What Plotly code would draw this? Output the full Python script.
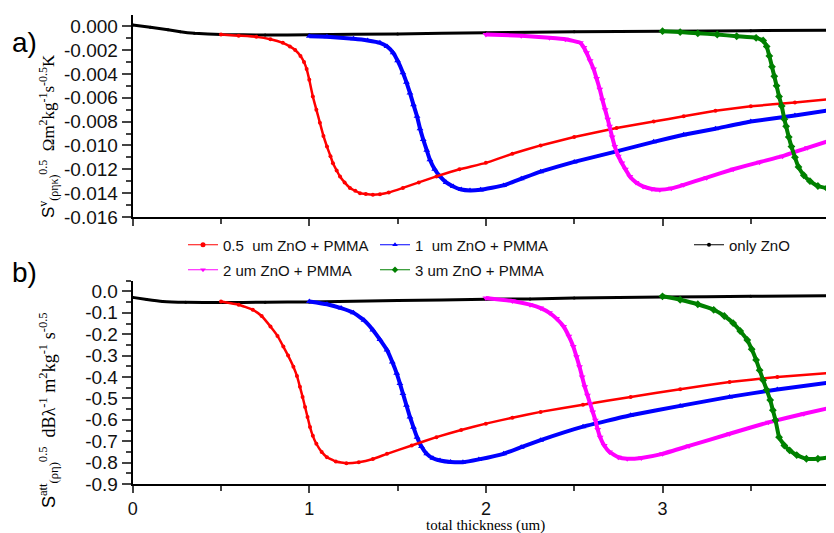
import plotly.graph_objects as go

# ---------------- data ----------------
# Panel a) : S^v
black_top_x = [0, 0.1, 0.2, 0.27, 0.35, 0.5, 0.75, 1.0, 1.5, 2.0, 2.5, 3.0, 3.5, 3.97]
black_top_y = [0.0001, -0.0001, -0.0003, -0.00047, -0.0006, -0.0007, -0.00075, -0.00072,
               -0.00065, -0.00056, -0.00048, -0.00042, -0.00038, -0.00034]

red_top_x = [0.5, 0.6, 0.7, 0.78, 0.85, 0.89, 0.92, 0.95, 0.97, 0.985, 1.0, 1.02, 1.04, 1.06,
             1.08, 1.10, 1.12, 1.134, 1.155, 1.174, 1.2, 1.23, 1.26, 1.287, 1.32, 1.36, 1.4,
             1.45, 1.53, 1.62, 1.72, 1.85, 2.0, 2.15, 2.31, 2.5, 2.74, 2.95, 3.12, 3.3, 3.5,
             3.75, 3.97]
red_top_y = [-0.0007, -0.0008, -0.0009, -0.0011, -0.0014, -0.0017, -0.0020, -0.0025, -0.0030,
             -0.0036, -0.0045, -0.0059, -0.0070, -0.0081, -0.0092, -0.0101, -0.0109, -0.0115,
             -0.0121, -0.0126, -0.0131, -0.01356, -0.0138, -0.0140, -0.01408, -0.01414,
             -0.0141, -0.01395, -0.01356, -0.0131, -0.0126, -0.0120, -0.01146, -0.0107,
             -0.0100, -0.0093, -0.00854, -0.0080, -0.00756, -0.0071, -0.00672, -0.0064, -0.0061]

blue_top_x = [1.0, 1.1, 1.25, 1.33, 1.40, 1.44, 1.475, 1.50, 1.53, 1.55, 1.57, 1.59, 1.61,
              1.627, 1.645, 1.665, 1.683, 1.71, 1.74, 1.775, 1.815, 1.86, 1.91, 1.97, 2.1,
              2.2, 2.31, 2.5, 2.74, 2.95, 3.12, 3.3, 3.5, 3.75, 3.97]
blue_top_y = [-0.00084, -0.0009, -0.00106, -0.0012, -0.0014, -0.0017, -0.00224, -0.0029,
              -0.0039, -0.0047, -0.0056, -0.0066, -0.00756, -0.0086, -0.0095, -0.0104,
              -0.0112, -0.0120, -0.0126, -0.0131, -0.01344, -0.0137, -0.01378, -0.01372,
              -0.01335, -0.0128, -0.0122, -0.01138, -0.0105, -0.0097, -0.0091, -0.0086,
              -0.0080, -0.0075, -0.0070]

magenta_top_x = [2.0, 2.2, 2.36, 2.45, 2.535, 2.555, 2.57, 2.59, 2.61, 2.627, 2.645, 2.66,
                 2.675, 2.69, 2.70, 2.715, 2.73, 2.75, 2.77, 2.79, 2.815, 2.85, 2.89, 2.94,
                 2.985, 3.05, 3.12, 3.25, 3.4, 3.55, 3.68, 3.82, 3.97]
magenta_top_y = [-0.0007, -0.0008, -0.00098, -0.0011, -0.0014, -0.0018, -0.00224, -0.0029,
                 -0.0036, -0.0044, -0.0053, -0.0062, -0.0070, -0.0078, -0.0084, -0.0093,
                 -0.0101, -0.0109, -0.01148, -0.0120, -0.0126, -0.0131, -0.01344, -0.01365,
                 -0.01372, -0.0136, -0.0133, -0.0127, -0.0120, -0.0114, -0.0109, -0.0102,
                 -0.0095]

green_top_x = [3.0, 3.1, 3.2, 3.31, 3.42, 3.53, 3.57, 3.59, 3.605, 3.62, 3.633, 3.646, 3.66,
               3.675, 3.69, 3.70, 3.715, 3.73, 3.75, 3.77, 3.80, 3.835, 3.88, 3.93, 3.97]
green_top_y = [-0.00042, -0.0005, -0.0006, -0.0007, -0.00085, -0.00098, -0.0012, -0.0017,
               -0.0025, -0.0034, -0.0042, -0.0050, -0.0059, -0.0067, -0.0078, -0.0084,
               -0.0093, -0.0101, -0.0110, -0.0118, -0.0125, -0.0130, -0.0134, -0.01358,
               -0.01366]

# Panel b) : S^att
black_bot_x = [0, 0.08, 0.17, 0.3, 0.5, 0.75, 1.0, 1.5, 2.0, 2.25, 2.5, 3.0, 3.5, 3.97]
black_bot_y = [-0.028, -0.038, -0.047, -0.051, -0.052, -0.051, -0.049, -0.043, -0.037,
               -0.035, -0.031, -0.026, -0.023, -0.020]

red_bot_x = [0.5, 0.6, 0.68, 0.73, 0.78, 0.82, 0.853, 0.88, 0.91, 0.93, 0.947, 0.962, 0.976,
             0.99, 1.004, 1.02, 1.04, 1.07, 1.10, 1.15, 1.21, 1.28, 1.36, 1.44, 1.58, 1.72,
             1.86, 2.0, 2.15, 2.31, 2.55, 2.82, 3.1, 3.38, 3.65, 3.97]
red_bot_y = [-0.047, -0.062, -0.086, -0.115, -0.164, -0.208, -0.258, -0.30, -0.352, -0.395,
             -0.446, -0.493, -0.54, -0.587, -0.634, -0.675, -0.712, -0.75, -0.775, -0.795,
             -0.803, -0.798, -0.783, -0.759, -0.72, -0.681, -0.648, -0.618, -0.59, -0.563,
             -0.53, -0.493, -0.457, -0.423, -0.40, -0.38]

blue_bot_x = [1.0, 1.1, 1.18, 1.25, 1.31, 1.36, 1.40, 1.44, 1.47, 1.495, 1.513, 1.53, 1.55,
              1.57, 1.59, 1.61, 1.635, 1.665, 1.70, 1.74, 1.80, 1.87, 1.96, 2.1, 2.2, 2.31,
              2.55, 2.82, 3.1, 3.38, 3.65, 3.97]
blue_bot_y = [-0.047, -0.060, -0.078, -0.10, -0.135, -0.18, -0.225, -0.274, -0.33, -0.383,
              -0.43, -0.477, -0.532, -0.587, -0.635, -0.681, -0.725, -0.759, -0.78, -0.79,
              -0.797, -0.798, -0.785, -0.759, -0.728, -0.695, -0.632, -0.579, -0.535, -0.493,
              -0.458, -0.423]

magenta_bot_x = [2.0, 2.15, 2.25, 2.31, 2.36, 2.40, 2.44, 2.47, 2.495, 2.513, 2.53, 2.545,
                 2.56, 2.575, 2.59, 2.605, 2.62, 2.633, 2.647, 2.67, 2.70, 2.75, 2.80, 2.88,
                 3.0, 3.15, 3.38, 3.6, 3.8, 3.97]
magenta_bot_y = [-0.031, -0.045, -0.062, -0.078, -0.10, -0.127, -0.164, -0.21, -0.258,
                 -0.305, -0.352, -0.40, -0.446, -0.485, -0.524, -0.563, -0.602, -0.645,
                 -0.681, -0.72, -0.751, -0.775, -0.782, -0.778, -0.759, -0.722, -0.665,
                 -0.612, -0.572, -0.54]

green_bot_x = [3.0, 3.1, 3.2, 3.29, 3.35, 3.40, 3.44, 3.48, 3.505, 3.53, 3.55, 3.57, 3.59,
               3.61, 3.625, 3.64, 3.66, 3.69, 3.72, 3.76, 3.815, 3.88, 3.95, 3.97]
green_bot_y = [-0.023, -0.039, -0.06, -0.086, -0.115, -0.148, -0.185, -0.227, -0.27, -0.32,
               -0.368, -0.415, -0.46, -0.508, -0.555, -0.602, -0.681, -0.72, -0.743, -0.765,
               -0.782, -0.782, -0.775, -0.773]

series_names = ["0.5  um ZnO + PMMA", "1  um ZnO + PMMA", "only ZnO",
                "2 um ZnO + PMMA", "3 um ZnO + PMMA"]

top_tickvals = [0.0, -0.002, -0.004, -0.006, -0.008, -0.010, -0.012, -0.014, -0.016]
top_ticktext = ["0.000", "-0.002", "-0.004", "-0.006", "-0.008", "-0.010", "-0.012",
                "-0.014", "-0.016"]
bot_tickvals = [0.0, -0.1, -0.2, -0.3, -0.4, -0.5, -0.6, -0.7, -0.8, -0.9]
bot_ticktext = ["0.0", "-0.1", "-0.2", "-0.3", "-0.4", "-0.5", "-0.6", "-0.7", "-0.8", "-0.9"]
x_tickvals = [0, 1, 2, 3, 4]
x_ticktext = ["0", "1", "2", "3", "4"]

# ---------------- figure ----------------
OFF = 8                       # page body margin
W, H = 834 - OFF, 533 - OFF   # figure size so it fills the window


def fx(px):
    return (px - OFF) / W


def fy(py):
    return 1 - (py - OFF) / H


X_MAX = (834 - 132.7) / 176.6

fig = go.Figure()

styles = {
    "red": dict(color="#FF0000", symbol="circle", size=4, lw=2.5),
    "blue": dict(color="#0000FF", symbol="triangle-up", size=6, lw=4),
    "black": dict(color="#000000", symbol="circle", size=3, lw=3),
    "magenta": dict(color="#FF00FF", symbol="triangle-down", size=6, lw=4),
    "green": dict(color="#008000", symbol="diamond", size=6, lw=4),
}

panels = [
    ("x", "y", {"black": (black_top_x, black_top_y), "blue": (blue_top_x, blue_top_y),
                "red": (red_top_x, red_top_y), "magenta": (magenta_top_x, magenta_top_y),
                "green": (green_top_x, green_top_y)}),
    ("x2", "y2", {"black": (black_bot_x, black_bot_y), "blue": (blue_bot_x, blue_bot_y),
                  "red": (red_bot_x, red_bot_y), "magenta": (magenta_bot_x, magenta_bot_y),
                  "green": (green_bot_x, green_bot_y)}),
]
for xa, ya, data in panels:
    for key in ["black", "blue", "red", "magenta", "green"]:
        s = styles[key]
        xs, ys = data[key]
        fig.add_trace(go.Scatter(
            x=xs, y=ys, xaxis=xa, yaxis=ya, mode="lines+markers",
            line=dict(color=s["color"], width=s["lw"], shape="spline", smoothing=0.3),
            marker=dict(color=s["color"], symbol=s["symbol"], size=s["size"]),
            showlegend=False, hoverinfo="skip"))

# legend entries (thin lines), each in its own legend box; (text start x, row y) in page px
legend_items = [("red", series_names[0], 222, 245), ("blue", series_names[1], 414, 245),
                ("black", series_names[2], 728, 245), ("magenta", series_names[3], 222, 270),
                ("green", series_names[4], 414, 270)]
legend_ids = ["legend", "legend2", "legend3", "legend4", "legend5"]
for (key, name, px, py), lid in zip(legend_items, legend_ids):
    s = styles[key]
    fig.add_trace(go.Scatter(
        x=[None], y=[None], mode="lines+markers", name=name, legend=lid,
        line=dict(color=s["color"], width=1),
        marker=dict(color=s["color"], symbol=s["symbol"], size=5 if key != "black" else 4),
        showlegend=True))
    fig.layout[lid] = dict(x=fx(px - 39), y=fy(py), xanchor="left", yanchor="middle",
                           bgcolor="rgba(0,0,0,0)", borderwidth=0,
                           font=dict(family="Liberation Sans, Arial", size=15, color="#111"))

ytick_font = dict(family="Liberation Sans, Arial", size=19, color="#111")
xtick_font = dict(family="Liberation Sans, Arial", size=18, color="#111")

common_x = dict(range=[0, X_MAX], tickvals=x_tickvals, ticktext=x_ticktext, ticks="outside",
                ticklen=7, tickwidth=1.5, showline=True, linewidth=2, linecolor="black",
                showgrid=False, zeroline=False, automargin=False, domain=[fx(132.7), 1],
                minor=dict(ticks="outside", ticklen=5, tickwidth=1.5, dtick=0.5, tick0=0,
                           showgrid=False),
                tickfont=xtick_font)
common_y = dict(ticks="outside", ticklen=9, tickwidth=1.5, showline=True, linewidth=2,
                linecolor="black", showgrid=False, zeroline=False, automargin=False,
                tickfont=ytick_font)

top_dom = [fy(217), fy(14.8)]
bot_dom = [fy(484), fy(280.7)]

fig.update_layout(
    width=W, height=H, margin=dict(l=0, r=0, t=0, b=0),
    paper_bgcolor="white", plot_bgcolor="white",
    xaxis=dict(common_x, anchor="y", showticklabels=False),
    yaxis=dict(common_y, anchor="x", domain=top_dom, range=[-0.016, 0.00095],
               tickvals=top_tickvals, ticktext=top_ticktext,
               minor=dict(ticks="outside", ticklen=5, tickwidth=1.5, dtick=0.001,
                          tick0=0, showgrid=False)),
    xaxis2=dict(common_x, anchor="y2", showticklabels=True),
    yaxis2=dict(common_y, anchor="x2", domain=bot_dom, range=[-0.9, 0.05],
                tickvals=bot_tickvals, ticktext=bot_ticktext,
                minor=dict(ticks="outside", ticklen=5, tickwidth=1.5, dtick=0.05,
                           tick0=0, showgrid=False)),
)

serif = "Liberation Serif, Times New Roman"
sans = "Liberation Sans, Arial"
top_title = ('<span style="font-family:Liberation Sans">S</span><sup>v</sup>'
             '<sub>(ρηκ)</sub><sup>0.5</sup>  Ωm<sup>2</sup>kg<sup>-1</sup>s<sup>-0.5</sup>K')
bot_title = ('<span style="font-family:Liberation Sans">S</span><sup>att</sup>'
             '<sub>(ρη)</sub><sup>0.5</sup>  dBλ<sup>-1</sup> m<sup>2</sup>kg<sup>-1</sup> s<sup>-0.5</sup>')

annotations = [
    dict(text="a)", x=fx(10), y=fy(42), xref="paper", yref="paper", xanchor="left",
         yanchor="middle", showarrow=False, font=dict(family=sans, size=28, color="black")),
    dict(text="b)", x=fx(10), y=fy(272), xref="paper", yref="paper", xanchor="left",
         yanchor="middle", showarrow=False, font=dict(family=sans, size=28, color="black")),
    dict(text=top_title, x=fx(48), y=fy(136), xref="paper", yref="paper",
         textangle=-90, showarrow=False, xanchor="center", yanchor="middle",
         font=dict(family=serif, size=17, color="black")),
    dict(text=bot_title, x=fx(48), y=fy(410), xref="paper", yref="paper",
         textangle=-90, showarrow=False, xanchor="center", yanchor="middle",
         font=dict(family=serif, size=18, color="black")),
    dict(text="total thickness (um)", x=fx(485), y=fy(525), xref="paper", yref="paper",
         showarrow=False, xanchor="center", yanchor="middle",
         font=dict(family=serif, size=15, color="black")),
]
fig.update_layout(annotations=annotations)

fig.write_html("out.html")
